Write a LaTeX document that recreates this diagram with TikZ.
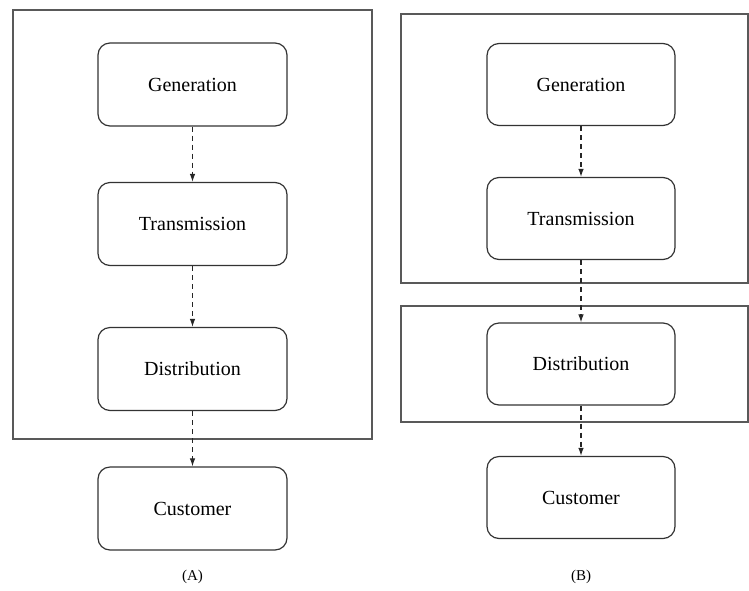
\documentclass[tikz,border=0pt]{standalone}
\usepackage{fontspec}
\setmainfont{Liberation Serif}
\usetikzlibrary{arrows.meta}
\begin{document}
\begin{tikzpicture}[x=1pt,y=-1pt,
  stagebox/.style={draw=black!80,line width=1.2pt,rounded corners=12pt,
    minimum width=189pt,minimum height=83pt,inner sep=0pt,
    font=\fontsize{20}{23}\selectfont},
  frame/.style={draw=black!65,line width=1.8pt},
  flow/.style={draw=black!85,line width=1.1pt,dash pattern=on 5pt off 4pt,
    -{Latex[length=8pt,width=5.5pt]}},
  caption/.style={font=\fontsize{15}{17}\selectfont}]
\useasboundingbox (0,0) rectangle (749,590);
% (A)
\draw[frame] (13,10) rectangle (372,439);
\node[stagebox] (ga) at (192.5,84.5) {Generation};
\node[stagebox] (ta) at (192.5,224) {Transmission};
\node[stagebox] (da) at (192.5,369) {Distribution};
\node[stagebox] (ca) at (192.5,508.5) {Customer};
\draw[flow] (ga) -- (ta);
\draw[flow] (ta) -- (da);
\draw[flow] (da) -- (ca);
\node[caption] (la) at (192.5,577) {(A)};
% (B)
\draw[frame] (401,14) rectangle (748,283);
\draw[frame] (401,306) rectangle (748,422);
\node[stagebox,minimum width=188pt,minimum height=82pt] (gb) at (581,84.5) {Generation};
\node[stagebox,minimum width=188pt,minimum height=82pt] (tb) at (581,218.5) {Transmission};
\node[stagebox,minimum width=188pt,minimum height=82pt] (db) at (581,364) {Distribution};
\node[stagebox,minimum width=188pt,minimum height=82pt] (cb) at (581,497.5) {Customer};
\draw[flow] (gb) -- (tb);
\draw[flow] (tb) -- (db);
\draw[flow] (db) -- (cb);
\node[caption] (lb) at (581,577) {(B)};
\end{tikzpicture}
\end{document}
